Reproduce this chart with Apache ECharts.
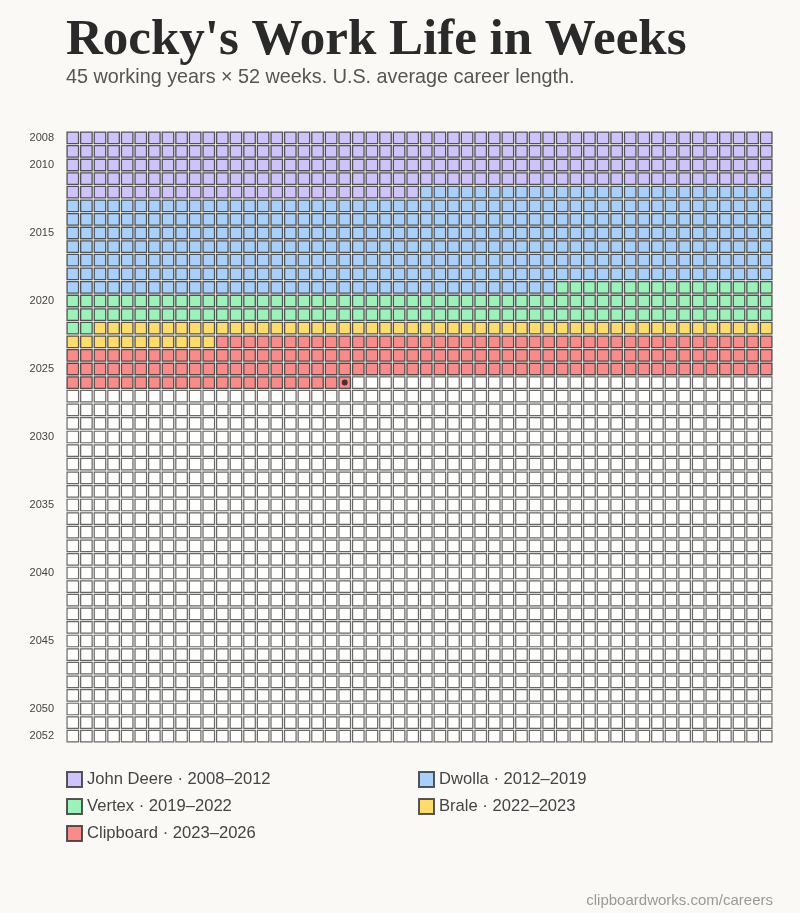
<!DOCTYPE html>
<html>
<head>
<meta charset="utf-8">
<script src="https://cdn.jsdelivr.net/npm/echarts@6/dist/echarts.min.js"></script>
<style>
  html, body { margin: 0; padding: 0; background: #faf9f6; }
  #chart { width: 800px; height: 913px; }
</style>
</head>
<body>
<div id="chart"></div>
<script>
// rows = years, columns = weeks
const years = Array.from({ length: 45 }, (_, i) => String(2008 + i))
const weeks = Array.from({ length: 52 }, (_, i) => String(i + 1))
const labelYears = ['2008', '2010', '2015', '2020', '2025', '2030', '2035', '2040', '2045', '2050', '2052']

// employers, [row, week] of first and last week
const jobNames = ['John Deere · 2008–2012', 'Dwolla · 2012–2019', 'Vertex · 2019–2022', 'Brale · 2022–2023', 'Clipboard · 2023–2026']
const jobColors = ['#c4b5fd', '#93c5fd', '#86efac', '#fcd34d', '#f87171']
const jobStart = [[0, 0], [4, 26], [11, 36], [14, 2], [15, 11]]
const jobEnd = [[4, 25], [11, 35], [14, 1], [15, 10], [18, 20]]
const currentWeek = [18, 20]

const toIdx = p => p[0] * 52 + p[1]
const cells = (from, to) => {
  const out = []
  for (let k = from; k <= to; k++) out.push([k % 52, Math.floor(k / 52)])
  return out
}

const chart = echarts.init(document.getElementById('chart'))

const jobSeries = jobNames.map((name, i) => ({
  name,
  type: 'scatter',
  symbol: 'rect',
  symbolSize: 11.5,
  itemStyle: { color: jobColors[i], borderColor: '#2e2e2e', borderWidth: 1.3 },
  data: cells(toIdx(jobStart[i]), toIdx(jobEnd[i])),
  z: 3
}))

const legendText = { fontFamily: 'Liberation Sans', fontSize: 16.6, color: '#444' }

const option = {
  backgroundColor: '#faf9f6',
  animation: false,
  title: [
    {
      text: "Rocky's Work Life in Weeks",
      subtext: '45 working years × 52 weeks. U.S. average career length.',
      left: 61,
      top: 10,
      itemGap: 2,
      textStyle: { fontFamily: 'Liberation Serif', fontSize: 51, fontWeight: 'bold', color: '#2a2a2a' },
      subtextStyle: { fontFamily: 'Liberation Sans', fontSize: 19.8, color: '#555' }
    },
    {
      text: 'clipboardworks.com/careers',
      right: 27,
      bottom: 5,
      padding: 0,
      textStyle: { fontFamily: 'Liberation Sans', fontSize: 15, fontWeight: 'normal', color: '#999' }
    }
  ],
  legend: [
    {
      data: [jobNames[0], jobNames[2], jobNames[4]],
      orient: 'vertical',
      left: 61,
      top: 766,
      itemWidth: 15,
      itemHeight: 15,
      itemGap: 10,
      selectedMode: false,
      textStyle: legendText
    },
    {
      data: [jobNames[1], jobNames[3]],
      orient: 'vertical',
      left: 413,
      top: 766,
      itemWidth: 15,
      itemHeight: 15,
      itemGap: 10,
      selectedMode: false,
      textStyle: legendText
    }
  ],
  grid: { left: 66, right: 27, top: 131, bottom: 170 },
  xAxis: {
    type: 'category',
    data: weeks,
    show: false
  },
  yAxis: {
    type: 'category',
    data: years,
    inverse: true,
    axisLine: { show: false },
    axisTick: { show: false },
    splitLine: { show: false },
    axisLabel: {
      margin: 12,
      fontFamily: 'Liberation Sans',
      fontSize: 11,
      color: '#444',
      interval: (idx, val) => labelYears.includes(val)
    }
  },
  series: [
    {
      name: 'empty',
      type: 'scatter',
      symbol: 'rect',
      symbolSize: 11.5,
      silent: true,
      itemStyle: { color: '#ffffff', borderColor: '#444', borderWidth: 1.2 },
      data: cells(toIdx(jobEnd[4]) + 1, 45 * 52 - 1),
      z: 2
    },
    ...jobSeries,
    {
      name: 'now',
      type: 'scatter',
      symbol: 'circle',
      symbolSize: 6,
      silent: true,
      itemStyle: { color: '#1a1a1a' },
      data: [[currentWeek[1], currentWeek[0]]],
      z: 5
    }
  ]
}

chart.setOption(option)
</script>
</body>
</html>
